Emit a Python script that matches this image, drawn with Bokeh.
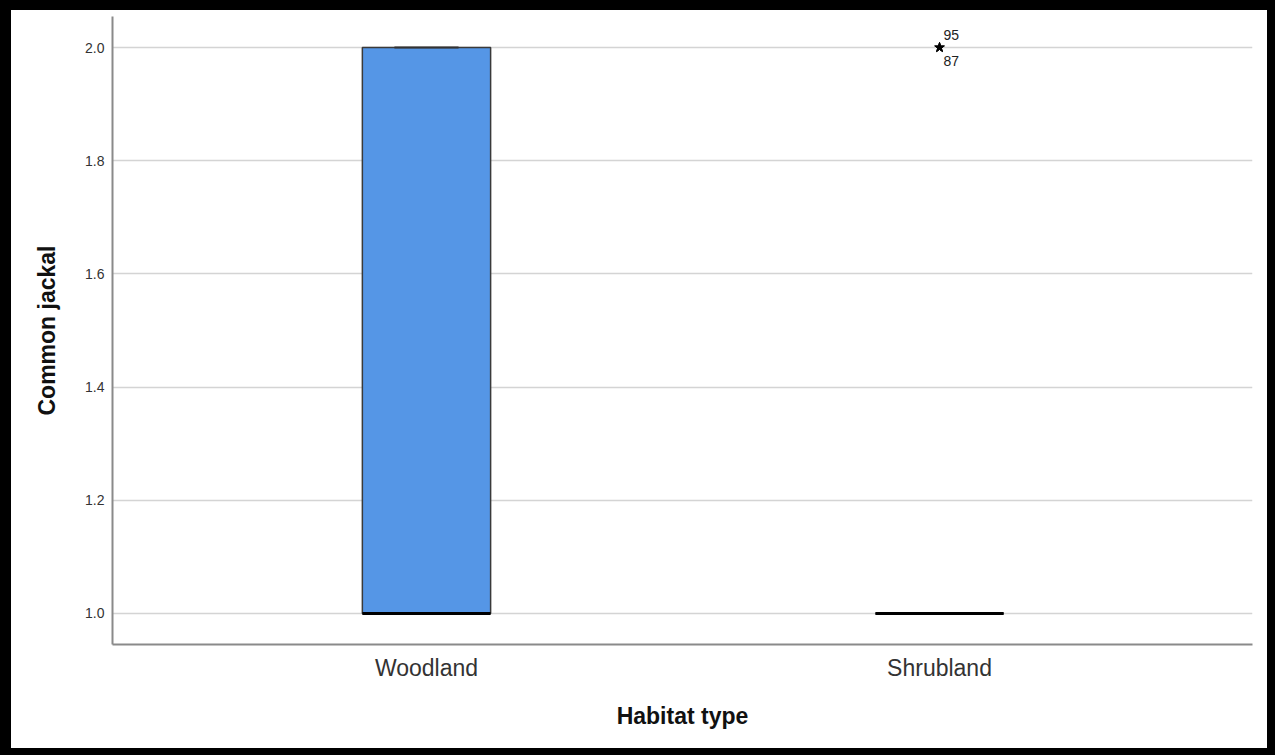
from bokeh.plotting import figure
from bokeh.models import Range1d, FixedTicker, NumeralTickFormatter
from bokeh.core.properties import value
from bokeh.embed import file_html
from bokeh.resources import INLINE

# Boxplot summary per habitat type
habitats = ["Woodland", "Shrubland"]
positions = [0, 1]
q1 = [1.0, 1.0]
median = [1.0, 1.0]
q3 = [2.0, 1.0]
whisker_low = [1.0, 1.0]
whisker_high = [2.0, 1.0]

# Extreme values (Shrubland) and their case numbers
outlier_pos = [1, 1]
outlier_values = [2.0, 2.0]
outlier_ids = ["95", "87"]

y_ticks = [1.0, 1.2, 1.4, 1.6, 1.8, 2.0]

FONT = "Liberation Sans"
BOX_W = 0.25
CAP_W = 0.125

p = figure(width=1275, height=755, output_backend="svg", toolbar_location=None,
           x_range=Range1d(-0.612, 1.610), y_range=Range1d(0.9452, 2.0548),
           min_border_left=101, min_border_right=34, min_border_top=6,
           min_border_bottom=121, background_fill_color="white",
           border_fill_color="white",
           styles={"border-left": "11px solid black", "border-top": "10px solid black",
                   "border-right": "8px solid black", "border-bottom": "7px solid black"})
p.outline_line_color = None
p.xgrid.visible = False
p.ygrid.grid_line_color = "#d4d4d4"
p.ygrid.grid_line_width = 1.5
p.ygrid.ticker = FixedTicker(ticks=y_ticks)

# y axis
p.yaxis.ticker = FixedTicker(ticks=y_ticks)
p.yaxis.formatter = NumeralTickFormatter(format="0.0")
p.yaxis.axis_label = "Common jackal"
p.yaxis.axis_label_text_font = FONT
p.yaxis.axis_label_text_font_style = "bold"
p.yaxis.axis_label_text_font_size = "23px"
p.yaxis.axis_label_text_color = "#111111"
p.yaxis.axis_label_standoff = 22
p.yaxis.major_label_text_font = FONT
p.yaxis.major_label_text_font_size = "14px"
p.yaxis.major_label_text_color = "#333333"
p.yaxis.major_label_standoff = 8

# x axis
p.xaxis.ticker = FixedTicker(ticks=positions)
p.xaxis.major_label_overrides = {pos: name for pos, name in zip(positions, habitats)}
p.xaxis.axis_label = "Habitat type"
p.xaxis.axis_label_text_font = FONT
p.xaxis.axis_label_text_font_style = "bold"
p.xaxis.axis_label_text_font_size = "23px"
p.xaxis.axis_label_text_color = "#111111"
p.xaxis.axis_label_standoff = 19
p.xaxis.major_label_text_font = FONT
p.xaxis.major_label_text_font_size = "23px"
p.xaxis.major_label_text_color = "#333333"
p.xaxis.major_label_standoff = 10

for ax in (p.xaxis, p.yaxis):
    ax.axis_line_color = "#8a8a8a"
    ax.axis_line_width = 2
    ax.major_tick_line_color = None
    ax.minor_tick_line_color = None
    ax.major_tick_out = 0
    ax.major_tick_in = 0

# whiskers (vertical stems)
p.segment(x0=positions, y0=whisker_low, x1=positions, y1=q1, line_color="#333333", line_width=1.5)
p.segment(x0=positions, y0=q3, x1=positions, y1=whisker_high, line_color="#333333", line_width=1.5)

# boxes
left = [x - BOX_W / 2 for x in positions]
right = [x + BOX_W / 2 for x in positions]
p.quad(left=left, right=right, bottom=q1, top=q3, fill_color="#5596e6",
       line_color="#3a3a3a", line_width=1.5)

# whisker caps
cap_l = [x - CAP_W / 2 for x in positions]
cap_r = [x + CAP_W / 2 for x in positions]
p.segment(x0=cap_l, y0=whisker_high, x1=cap_r, y1=whisker_high, line_color="#333333", line_width=2)
p.segment(x0=cap_l, y0=whisker_low, x1=cap_r, y1=whisker_low, line_color="#333333", line_width=2)

# medians
p.segment(x0=left, y0=median, x1=right, y1=median, line_color="black", line_width=3)

# extreme values
p.scatter(x=outlier_pos, y=outlier_values, marker="star", size=10,
          fill_color="black", line_color="black")
p.text(x=outlier_pos[:1], y=outlier_values[:1], text=outlier_ids[:1],
       text_font=value(FONT), text_font_size="14px", text_color="#222222",
       x_offset=4, y_offset=-8, text_align="left", text_baseline="bottom")
p.text(x=outlier_pos[1:], y=outlier_values[1:], text=outlier_ids[1:],
       text_font=value(FONT), text_font_size="14px", text_color="#222222",
       x_offset=4, y_offset=8, text_align="left", text_baseline="top")

open("out.html", "w").write(file_html(p, INLINE))
